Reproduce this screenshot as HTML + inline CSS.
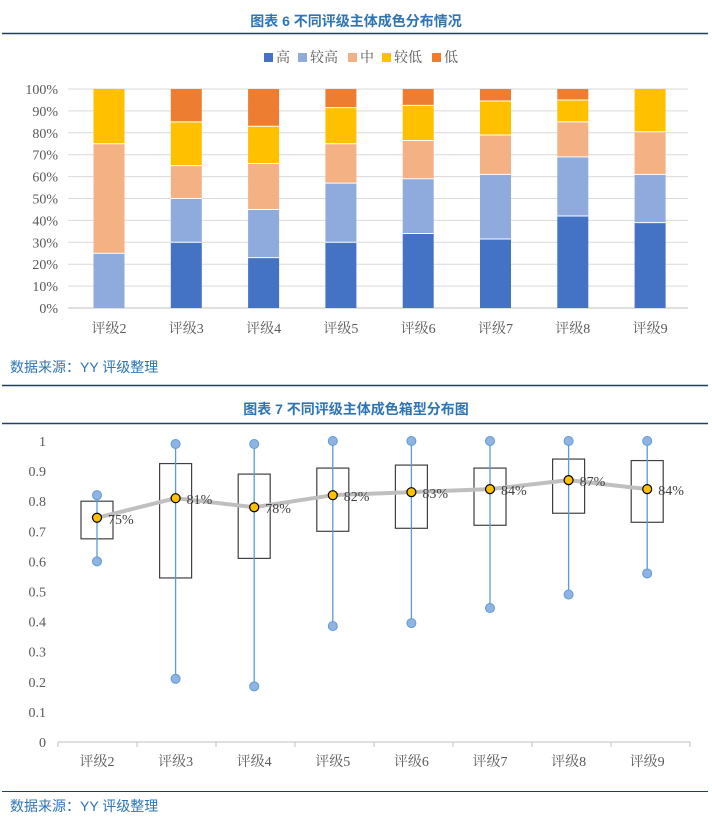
<!DOCTYPE html><html><head><meta charset="utf-8"><style>
body{margin:0;background:#fff;width:712px;height:819px;overflow:hidden}
svg{display:block}
.t{font-family:"Liberation Sans","Noto Sans CJK SC",sans-serif;font-weight:bold;fill:#2E74B5;font-size:14px}
.s{font-family:"Liberation Sans","Noto Sans CJK SC",sans-serif;fill:#2E74B5;font-size:14px}
.a{font-family:"Liberation Serif","Noto Serif CJK SC",serif;fill:#595959;font-size:14px}
.p{font-family:"Liberation Serif",serif;fill:#404040;font-size:14px}
</style></head><body>
<svg width="712" height="819" xmlns="http://www.w3.org/2000/svg">
<text class="t" x="356" y="26" text-anchor="middle">图表 6 不同评级主体成色分布情况</text>
<line x1="2" y1="33.5" x2="708" y2="33.5" stroke="#1F3F66" stroke-width="1.5"/>
<g class="a" font-size="14">
<rect x="264" y="53" width="9" height="9" fill="#4472C4"/><text x="276" y="62">高</text>
<rect x="298" y="53" width="9" height="9" fill="#8FAADC"/><text x="310" y="62">较高</text>
<rect x="348" y="53" width="9" height="9" fill="#F4B183"/><text x="360" y="62">中</text>
<rect x="382" y="53" width="9" height="9" fill="#FFC000"/><text x="394" y="62">较低</text>
<rect x="432" y="53" width="9" height="9" fill="#ED7D31"/><text x="444" y="62">低</text>
</g>
<g id="c1"></g>
<text class="s" x="10" y="372">数据来源：YY 评级整理</text>
<line x1="2" y1="385.5" x2="708" y2="385.5" stroke="#1F3F66" stroke-width="1.5"/>
<text class="t" x="356" y="414" text-anchor="middle">图表 7 不同评级主体成色箱型分布图</text>
<line x1="2" y1="423.5" x2="708" y2="423.5" stroke="#1F3F66" stroke-width="1.5"/>
<g id="c2"></g>
<text class="s" x="10" y="811">数据来源：YY 评级整理</text>
<line x1="2" y1="791.5" x2="708" y2="791.5" stroke="#1F3F66" stroke-width="1"/>
</svg>
<script>
const NS="http://www.w3.org/2000/svg";
function el(p,t,a,txt){const e=document.createElementNS(NS,t);for(const k in a)e.setAttribute(k,a[k]);if(txt!=null)e.textContent=txt;p.appendChild(e);return e;}
const c1=document.getElementById('c1');
const y1=v=>308-2.19*v;
for(let i=0;i<=10;i++){const y=y1(i*10);el(c1,'line',{x1:68,x2:688,y1:y,y2:y,stroke:i?'#D9D9D9':'#BFBFBF','stroke-width':1});
el(c1,'text',{x:58,y:y+5,'text-anchor':'end',class:'a'},(i*10)+'%');}
const cols=['#4472C4','#8FAADC','#F4B183','#FFC000','#ED7D31'];
const D=[[0,25,75,100,100],[30,50,65,85,100],[23,45,66,83,100],[30,57,75,91.5,100],[34,59,76.5,92.5,100],[31.5,61,79,94.5,100],[42,69,85,95,100],[39,61,80.5,100,100]];
D.forEach((d,i)=>{const cx=109+i*77.3;let prev=0;
d.forEach((v,j)=>{if(v>prev){el(c1,'rect',{x:cx-15.5,y:y1(v),width:31,height:y1(prev)-y1(v),fill:cols[j]});
if(prev>0)el(c1,'line',{x1:cx-15.5,x2:cx+15.5,y1:y1(prev),y2:y1(prev),stroke:'#fff','stroke-width':1});}prev=v;});
el(c1,'text',{x:cx,y:333,'text-anchor':'middle',class:'a'},'评级'+(i+2));});
const c2=document.getElementById('c2');
const y2=v=>742-301*v;
for(let i=0;i<=10;i++){el(c2,'text',{x:46,y:y2(i/10)+5,'text-anchor':'end',class:'a'},i==0?'0':i==10?'1':(i/10).toFixed(1));}
el(c2,'line',{x1:58,x2:690,y1:742,y2:742,stroke:'#BFBFBF'});
const B=[[.675,.80,.60,.82,.745],[.545,.925,.21,.99,.81],[.61,.89,.185,.99,.78],[.70,.91,.385,1,.82],[.71,.92,.395,1,.83],[.72,.91,.445,1,.84],[.76,.94,.49,1,.87],[.73,.935,.56,1,.84]];
const cx2=i=>97+i*78.6;
for(let i=0;i<=8;i++){const x=58+i*79;el(c2,'line',{x1:x,x2:x,y1:742,y2:747,stroke:'#BFBFBF'});}
B.forEach((b,i)=>{const x=cx2(i);
el(c2,'rect',{x:x-16,y:y2(b[1]),width:32,height:y2(b[0])-y2(b[1]),fill:'none',stroke:'#404040','stroke-width':1.2});
el(c2,'text',{x:x,y:766,'text-anchor':'middle',class:'a'},'评级'+(i+2));});
el(c2,'polyline',{points:B.map((b,i)=>cx2(i)+','+y2(b[4])).join(' '),fill:'none',stroke:'#BFBFBF','stroke-width':4,'stroke-linejoin':'round'});
B.forEach((b,i)=>{const x=cx2(i);
el(c2,'line',{x1:x,x2:x,y1:y2(b[3]),y2:y2(b[2]),stroke:'#5B9BD5','stroke-width':1.3});
[b[2],b[3]].forEach(v=>el(c2,'circle',{cx:x,cy:y2(v),r:4.5,fill:'#8FB4E3',stroke:'#5B9BD5'}));
el(c2,'circle',{cx:x,cy:y2(b[4]),r:4.5,fill:'#FFC000',stroke:'#000','stroke-width':1.2});
el(c2,'text',{x:x+11,y:y2(b[4])+6,class:'p'},Math.round(b[4]*100)+'%');});
</script>
</body></html>
